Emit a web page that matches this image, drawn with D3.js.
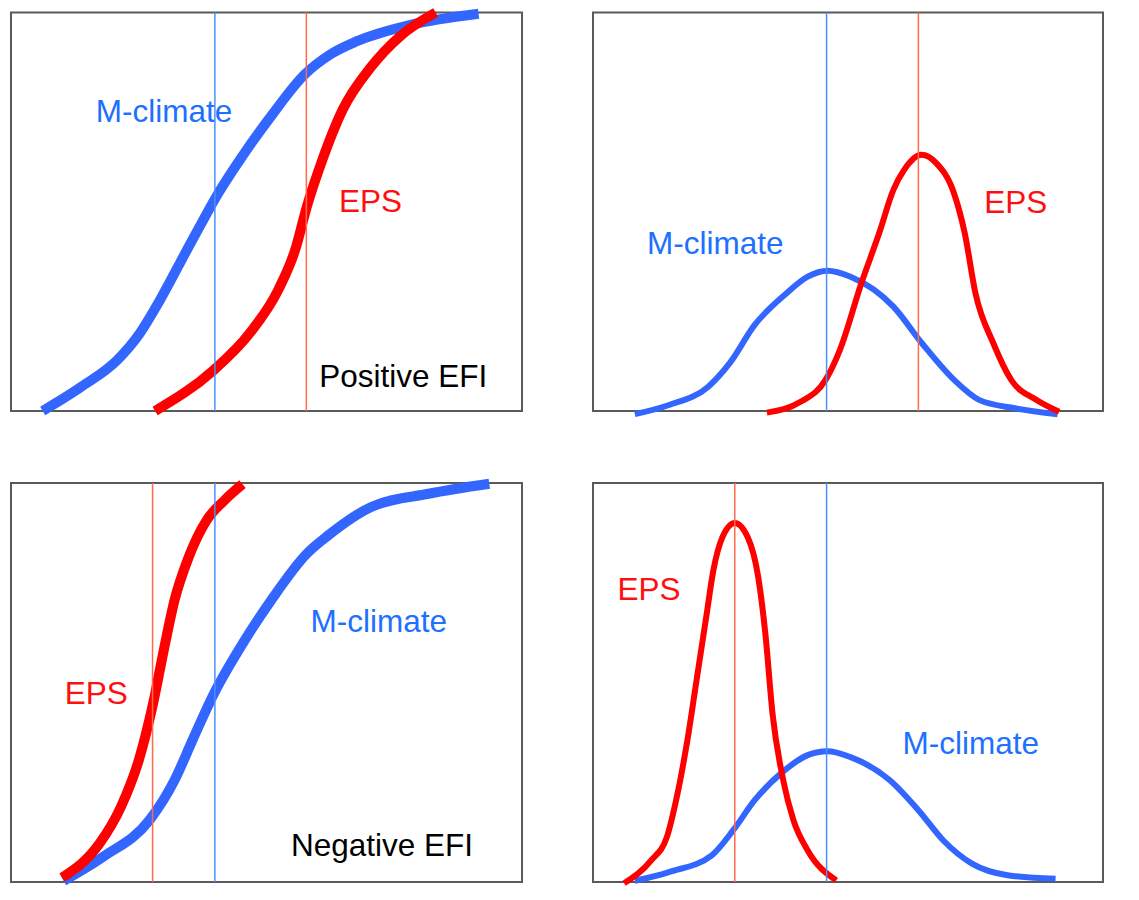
<!DOCTYPE html>
<html>
<head>
<meta charset="utf-8">
<script src="https://cdn.jsdelivr.net/npm/d3@7"></script>
<style>
  html, body { margin: 0; padding: 0; background: #fff; }
  svg { display: block; }
</style>
</head>
<body>
<div id="chart"></div>
<script>
// Curves as [x, y] in panel units (0-100 across the box, 0-100 up the box)

// Positive EFI: cumulative
const posCdfClimate = [[6.2,0],[13.8,6.1],[20.8,12.8],[25.2,19.5],[29.0,27.5],[33.0,37.0],[36.8,46.0],[40.5,54.5],[45.3,64.0],[50.9,74.0],[57.5,84.5],[62.5,89.5],[67.7,92.8],[78.2,96.9],[91.5,99.7]];
const posCdfEps = [[28.2,0],[39.7,10.3],[46.7,19.5],[52.3,30.4],[55.6,40.4],[57.9,51.3],[60.7,62.2],[64.9,75.6],[70.5,86.4],[76.1,94.0],[83.1,100]];

// Positive EFI: density
const posPdfClimate = [[8.2,-0.8],[14.9,1.5],[22.6,6.1],[26.8,12.0],[31.7,21.6],[37.9,29.5],[42.1,33.7],[46.0,35.2],[50.5,33.7],[58.9,26.2],[64.5,17.0],[70.8,7.8],[75.7,2.8],[82.7,0.7],[91.1,-0.8]];
const posPdfEps = [[34.1,-0.4],[40.7,2.3],[45.6,7.8],[48.4,15.3],[52.6,32.0],[56.1,44.6],[58.9,55.5],[61.0,60.5],[64.4,64.3],[67.3,62.2],[70.8,54.6],[72.9,44.6],[75.0,29.5],[78.5,17.0],[82.0,7.8],[86.9,2.8],[91.4,-0.2]];

// Negative EFI: cumulative
const negCdfEps = [[10.0,1.1],[17.3,9.6],[21.5,18.8],[25.0,30.5],[27.8,44.7],[29.9,58.1],[32.0,70.6],[34.8,81.5],[38.3,90.7],[41.8,95.7],[45.3,99.7]];
const negCdfClimate = [[10.3,0.3],[18.0,6.3],[27.1,15.5],[32.0,25.5],[35.5,35.5],[39.7,47.2],[45.3,59.7],[50.9,70.6],[57.9,82.3],[62.1,86.9],[70.5,94.0],[81.7,97.3],[93.6,99.8]];

// Negative EFI: density
const negPdfEps = [[6.1,-0.3],[11.4,5.4],[14.5,11.3],[16.3,20.5],[18.4,34.7],[20.5,52.2],[22.2,66.4],[23.6,78.1],[25.4,86.5],[27.8,90.0],[30.3,86.5],[32.4,76.4],[33.8,62.2],[35.2,42.2],[37.3,25.5],[39.3,15.5],[42.1,7.9],[47.7,0.4]];
const negPdfClimate = [[8.2,0.3],[14.9,2.5],[23.3,6.7],[27.5,13.0],[31.7,20.5],[37.2,27.6],[42.1,31.8],[46.0,32.8],[50.5,31.3],[58.2,25.5],[63.8,18.0],[68.7,10.4],[74.3,4.6],[81.3,1.7],[90.7,0.8]];

// Vertical markers (panel units)
const posCdfMarks = [39.9, 57.8];
const posPdfMarks = [45.8, 63.8];
const negCdfMarks = [27.7, 39.9];
const negPdfMarks = [27.8, 45.8];

const BLUE = '#3366ff', RED = '#ff0000';
const BLUE_TXT = '#2070ff', RED_TXT = '#ff1010';
const BLUE_THIN = '#4a90ff', RED_THIN = '#ff6a4a';

const W = 1139, H = 900;
const svg = d3.select('#chart').append('svg')
  .attr('width', W)
  .attr('height', H);

const panels = [
  { left: 11, top: 12.5, width: 511, height: 398.5, lw: 10,
    curves: [[posCdfClimate, BLUE], [posCdfEps, RED]],
    marks: [[posCdfMarks[0], BLUE_THIN], [posCdfMarks[1], RED_THIN]],
    labels: [['M-climate', 16.6, 72.6, BLUE_TXT], ['EPS', 64.2, 49.9, RED_TXT], ['Positive EFI', 60.3, 5.9, '#000']] },
  { left: 593, top: 12.5, width: 510, height: 398.5, lw: 6,
    curves: [[posPdfClimate, BLUE], [posPdfEps, RED]],
    marks: [[posPdfMarks[0], BLUE_THIN], [posPdfMarks[1], RED_THIN]],
    labels: [['M-climate', 10.6, 39.4, BLUE_TXT], ['EPS', 76.7, 49.8, RED_TXT]] },
  { left: 11, top: 483, width: 511, height: 399, lw: 10,
    curves: [[negCdfClimate, BLUE], [negCdfEps, RED]],
    marks: [[negCdfMarks[0], RED_THIN], [negCdfMarks[1], BLUE_THIN]],
    labels: [['EPS', 10.5, 44.7, RED_TXT], ['M-climate', 58.6, 62.7, BLUE_TXT], ['Negative EFI', 54.8, 6.5, '#000']] },
  { left: 593, top: 483, width: 510, height: 399, lw: 6,
    curves: [[negPdfClimate, BLUE], [negPdfEps, RED]],
    marks: [[negPdfMarks[0], RED_THIN], [negPdfMarks[1], BLUE_THIN]],
    labels: [['EPS', 4.8, 70.6, RED_TXT], ['M-climate', 60.7, 32.0, BLUE_TXT]] }
];

panels.forEach(p => {
  const x = d3.scaleLinear().domain([0, 100]).range([p.left, p.left + p.width]);
  const y = d3.scaleLinear().domain([0, 100]).range([p.top + p.height, p.top]);
  const g = svg.append('g');

  g.append('rect')
    .attr('x', p.left)
    .attr('y', p.top)
    .attr('width', p.width)
    .attr('height', p.height)
    .attr('fill', 'none')
    .attr('stroke', '#5a5a5a')
    .attr('stroke-width', 2);

  const line = d3.line()
    .x(d => x(d[0]))
    .y(d => y(d[1]))
    .curve(d3.curveMonotoneX);

  p.curves.forEach(([pts, col]) => {
    g.append('path')
      .datum(pts)
      .attr('d', line)
      .attr('fill', 'none')
      .attr('stroke', col)
      .attr('stroke-width', p.lw)
      .attr('stroke-linejoin', 'round')
      .attr('stroke-linecap', 'butt');
  });

  p.labels.forEach(([txt, lx, ly, col]) => {
    g.append('text')
      .attr('x', x(lx))
      .attr('y', y(ly))
      .attr('fill', col)
      .attr('font-family', 'Arial, "Liberation Sans", sans-serif')
      .attr('font-size', 31.5)
      .text(txt);
  });

  p.marks.forEach(([v, col]) => {
    g.append('line')
      .attr('x1', x(v))
      .attr('x2', x(v))
      .attr('y1', y(0))
      .attr('y2', y(100))
      .attr('stroke', col)
      .attr('stroke-width', 1.5);
  });
});
</script>
</body>
</html>
